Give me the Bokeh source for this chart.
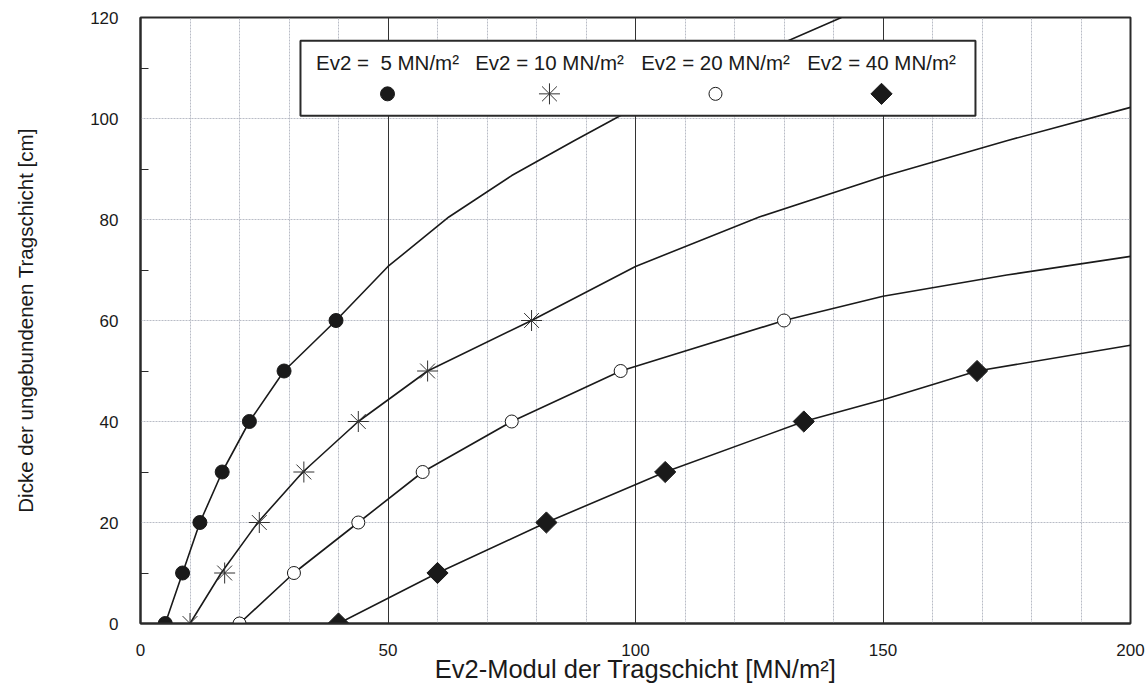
import math
from bokeh.plotting import figure
from bokeh.models import Range1d, FixedTicker, Grid
from bokeh.embed import file_html
from bokeh.resources import INLINE
from bokeh.core.properties import value

# ---------------- data ----------------
labels = ["Ev2 = \u00a05 MN/m²", "Ev2 = 10 MN/m²", "Ev2 = 20 MN/m²", "Ev2 = 40 MN/m²"]

x_ticks = [0, 50, 100, 150, 200]
y_ticks = [0, 20, 40, 60, 80, 100, 120]

ev5_x = [5, 8.5, 12, 16.5, 22, 29, 39.5]
ev5_y = [0, 10, 20, 30, 40, 50, 60]
ev10_x = [10, 17, 24, 33, 44, 58, 79]
ev10_y = [0, 10, 20, 30, 40, 50, 60]
ev20_x = [20, 31, 44, 57, 75, 97, 130]
ev20_y = [0, 10, 20, 30, 40, 50, 60]
ev40_x = [40, 60, 82, 106, 134, 169]
ev40_y = [0, 10, 20, 30, 40, 50]

curve5_x = [5, 8.5, 12, 16.5, 22, 29, 39.5, 50, 62.3, 75, 87.6, 97, 100, 125, 141.6]
curve5_y = [0, 10, 20, 30, 40, 50, 60, 70.7, 80.5, 88.7, 95.6, 100.6, 101.9, 112.9, 120]
curve10_x = [10, 16.3, 23.7, 32.8, 44, 58, 79, 100, 125, 150, 175, 200]
curve10_y = [0, 10, 20, 30, 40, 50, 60, 70.7, 80.5, 88.5, 95.6, 102.2]
curve20_x = [20, 31, 44, 57, 75, 97, 130, 150, 175, 200]
curve20_y = [0, 10, 20, 30, 40, 50, 60, 64.8, 69.0, 72.7]
curve40_x = [40, 60, 82, 106, 134, 150, 169, 200]
curve40_y = [0, 10, 20, 30, 40, 44.3, 50, 55.1]

x_title = "Ev2-Modul der Tragschicht [MN/m²]"
y_title = "Dicke der ungebundenen Tragschicht [cm]"

# ---------------- figure ----------------
FONT = "Liberation Sans"
INK = "#1a1a1a"

p = figure(width=1148, height=688, output_backend="svg", toolbar_location=None,
           x_range=Range1d(0, 200), y_range=Range1d(0, 120),
           min_border_left=140, min_border_right=18, min_border_top=17, min_border_bottom=65)
p.background_fill_color = "white"
p.border_fill_color = "white"
p.outline_line_color = "#2a2a2a"
p.outline_line_width = 2

# axes
p.xaxis.ticker = FixedTicker(ticks=x_ticks)
p.yaxis.ticker = FixedTicker(ticks=y_ticks, minor_ticks=[10, 30, 50, 70, 90, 110])
for ax in (p.xaxis[0], p.yaxis[0]):
    ax.axis_line_color = "#2a2a2a"
    ax.axis_line_width = 2
    ax.major_label_text_font = FONT
    ax.major_label_text_font_size = "17px"
    ax.major_label_text_color = INK
    ax.axis_label_text_font = FONT
    ax.axis_label_text_font_style = "normal"
    ax.axis_label_text_color = INK
    ax.major_tick_line_color = None
p.xaxis.minor_tick_line_color = None
p.yaxis.minor_tick_line_color = "#2a2a2a"
p.yaxis.minor_tick_in = 8
p.yaxis.minor_tick_out = 0
p.xaxis.axis_label = x_title
p.yaxis.axis_label = y_title
p.xaxis.axis_label_text_font_size = "25.5px"
p.yaxis.axis_label_text_font_size = "20.5px"
p.xaxis.major_label_standoff = 14
p.yaxis.major_label_standoff = 16
p.xaxis.axis_label_standoff = -4
p.yaxis.axis_label_standoff = 50

# grids
p.xgrid.ticker = FixedTicker(ticks=[v for v in range(10, 200, 10) if v % 50 != 0])
p.ygrid.ticker = FixedTicker(ticks=[20, 40, 60, 80, 100])
for g in (p.xgrid[0], p.ygrid[0]):
    g.grid_line_color = "#b9bcc6"
    g.grid_line_width = 1
    g.grid_line_dash = "2 1"
p.add_layout(Grid(dimension=0, ticker=FixedTicker(ticks=[50, 100, 150]),
                  grid_line_color="#333333", grid_line_width=1))

# curves
for cx, cy in [(curve5_x, curve5_y), (curve10_x, curve10_y),
               (curve20_x, curve20_y), (curve40_x, curve40_y)]:
    p.line(cx, cy, line_color=INK, line_width=1.6)

# markers
STYLES = [
    dict(marker="circle", size=14, fill_color=INK, line_color=INK),
    dict(marker="asterisk", size=21, line_color="#333333", line_width=1),
    dict(marker="circle", size=13, fill_color="white", line_color=INK, line_width=1),
    dict(marker="square", size=15, angle=math.pi / 4, fill_color=INK, line_color=INK),
]
for (mx, my), st in zip([(ev5_x, ev5_y), (ev10_x, ev10_y), (ev20_x, ev20_y), (ev40_x, ev40_y)], STYLES):
    p.scatter(mx, my, **st)

# legend box (custom: label above marker)
xs, xe = p.x_range.start, p.x_range.end
ys, ye = p.y_range.start, p.y_range.end
fx = lambda f: xs + f * (xe - xs)
fy = lambda f: ys + f * (ye - ys)
p.quad(left=[fx(0.1616)], right=[fx(0.8434)], top=[fy(0.9617)], bottom=[fy(0.838)],
       fill_color="white", line_color="#2a2a2a", line_width=2)
leg_cx = [fx(f) for f in (0.2495, 0.4131, 0.5808, 0.7485)]
p.text(x=leg_cx, y=[fy(0.926)] * 4, text=labels, text_font=value(FONT),
       text_font_size="20.5px", text_align="center", text_baseline="middle", text_color=INK)
for cx, st in zip(leg_cx, STYLES):
    p.scatter([cx], [fy(0.874)], **st)

open("out.html", "w").write(file_html(p, INLINE))
